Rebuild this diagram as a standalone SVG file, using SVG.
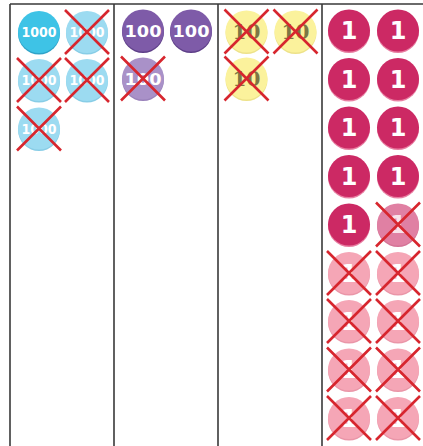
<svg xmlns="http://www.w3.org/2000/svg" xmlns:xlink="http://www.w3.org/1999/xlink" width="423" height="446" viewBox="0 0 423 446">
<style>
.grid{stroke:#3a3a3a;stroke-width:1.6;fill:none}
.xm{stroke:#D7262E;stroke-width:2.6;fill:none;stroke-linecap:butt}
.t{font-family:"DejaVu Sans","Liberation Sans",sans-serif;font-weight:bold;text-anchor:middle;fill:#fff}
.s1000{font-size:13.5px}
.s100{font-size:16.5px}
.s1{font-size:24px}
.s10{font-family:"DejaVu Serif","Liberation Serif",serif;font-weight:bold;font-size:20px;text-anchor:middle;fill:#7C7744}
.a1000{fill:#3EC3E6}.a1000s{fill:#2FA3C8}
.f1000{fill:#9CDBF1}.f1000s{fill:#88CDE6}
.a100{fill:#7E5BA8}.a100s{fill:#5E3F88}
.f100{fill:#A991C8}.f100s{fill:#9A82BB}
.f10{fill:#FBF29C}.f10s{fill:#EDE289}
.a1{fill:#CC2964}.a1s{fill:#E87FA2}
.m1{fill:#E080A3}.m1s{fill:#D47396}
.f1{fill:#F5A6B6}.f1s{fill:#EA96A8}
</style>
<defs>
<path id="x" class="xm" d="M-22,-22L22,22M22,-22L-22,22"/>
</defs>
<g id="grid">
<path class="grid" d="M10,4H430M10,4V446M114,4V446M218,4V446M322,4V446"/>
</g>
<g id="thousands">
<g id="th1" transform="translate(39,32)"><circle class="a1000s" cy="1.5" r="21"/><circle class="a1000" r="21"/><text class="t s1000" y="5" textLength="35" lengthAdjust="spacingAndGlyphs">1000</text></g>
<g id="th2" transform="translate(87,32)"><circle class="f1000s" cy="1.5" r="21"/><circle class="f1000" r="21"/><text class="t s1000" y="5" textLength="35" lengthAdjust="spacingAndGlyphs">1000</text><use xlink:href="#x"/></g>
<g id="th3" transform="translate(39,80)"><circle class="f1000s" cy="1.5" r="21"/><circle class="f1000" r="21"/><text class="t s1000" y="5" textLength="35" lengthAdjust="spacingAndGlyphs">1000</text><use xlink:href="#x"/></g>
<g id="th4" transform="translate(87,80)"><circle class="f1000s" cy="1.5" r="21"/><circle class="f1000" r="21"/><text class="t s1000" y="5" textLength="35" lengthAdjust="spacingAndGlyphs">1000</text><use xlink:href="#x"/></g>
<g id="th5" transform="translate(39,128.5)"><circle class="f1000s" cy="1.5" r="21"/><circle class="f1000" r="21"/><text class="t s1000" y="5" textLength="35" lengthAdjust="spacingAndGlyphs">1000</text><use xlink:href="#x"/></g>
</g>
<g id="hundreds">
<g id="h1" transform="translate(143,30.5)"><circle class="a100s" cy="1.5" r="21"/><circle class="a100" r="21"/><text class="t s100" y="6" textLength="37" lengthAdjust="spacingAndGlyphs">100</text></g>
<g id="h2" transform="translate(191,30.5)"><circle class="a100s" cy="1.5" r="21"/><circle class="a100" r="21"/><text class="t s100" y="6" textLength="37" lengthAdjust="spacingAndGlyphs">100</text></g>
<g id="h3" transform="translate(143,78.5)"><circle class="f100s" cy="1.5" r="21"/><circle class="f100" r="21"/><text class="t s100" y="6" textLength="37" lengthAdjust="spacingAndGlyphs">100</text><use xlink:href="#x"/></g>
</g>
<g id="tens">
<g id="te1" transform="translate(246.5,31.5)"><circle class="f10s" cy="1.5" r="21"/><circle class="f10" r="21"/><text class="s10" y="7.3">10</text><use xlink:href="#x"/></g>
<g id="te2" transform="translate(295.5,31.5)"><circle class="f10s" cy="1.5" r="21"/><circle class="f10" r="21"/><text class="s10" y="7.3">10</text><use xlink:href="#x"/></g>
<g id="te3" transform="translate(246.5,78.5)"><circle class="f10s" cy="1.5" r="21"/><circle class="f10" r="21"/><text class="s10" y="7.3">10</text><use xlink:href="#x"/></g>
</g>
<g id="ones">
<g id="o1" transform="translate(349,30.5)"><circle class="a1s" cy="1.5" r="21"/><circle class="a1" r="21"/><text class="t s1" y="8.7">1</text></g>
<g id="o2" transform="translate(398,30.5)"><circle class="a1s" cy="1.5" r="21"/><circle class="a1" r="21"/><text class="t s1" y="8.7">1</text></g>
<g id="o3" transform="translate(349,79)"><circle class="a1s" cy="1.5" r="21"/><circle class="a1" r="21"/><text class="t s1" y="8.7">1</text></g>
<g id="o4" transform="translate(398,79)"><circle class="a1s" cy="1.5" r="21"/><circle class="a1" r="21"/><text class="t s1" y="8.7">1</text></g>
<g id="o5" transform="translate(349,127.5)"><circle class="a1s" cy="1.5" r="21"/><circle class="a1" r="21"/><text class="t s1" y="8.7">1</text></g>
<g id="o6" transform="translate(398,127.5)"><circle class="a1s" cy="1.5" r="21"/><circle class="a1" r="21"/><text class="t s1" y="8.7">1</text></g>
<g id="o7" transform="translate(349,176)"><circle class="a1s" cy="1.5" r="21"/><circle class="a1" r="21"/><text class="t s1" y="8.7">1</text></g>
<g id="o8" transform="translate(398,176)"><circle class="a1s" cy="1.5" r="21"/><circle class="a1" r="21"/><text class="t s1" y="8.7">1</text></g>
<g id="o9" transform="translate(349,224.5)"><circle class="a1s" cy="1.5" r="21"/><circle class="a1" r="21"/><text class="t s1" y="8.7">1</text></g>
<g id="o10" transform="translate(398,224.5)"><circle class="m1s" cy="1.5" r="21"/><circle class="m1" r="21"/><text class="t s1" y="8.7" fill-opacity="0.8">1</text><use xlink:href="#x"/></g>
<g id="o11" transform="translate(349,273)"><circle class="f1s" cy="1.5" r="21"/><circle class="f1" r="21"/><text class="t s1" y="8.7">1</text><use xlink:href="#x"/></g>
<g id="o12" transform="translate(398,273)"><circle class="f1s" cy="1.5" r="21"/><circle class="f1" r="21"/><text class="t s1" y="8.7">1</text><use xlink:href="#x"/></g>
<g id="o13" transform="translate(349,321)"><circle class="f1s" cy="1.5" r="21"/><circle class="f1" r="21"/><text class="t s1" y="8.7">1</text><use xlink:href="#x"/></g>
<g id="o14" transform="translate(398,321)"><circle class="f1s" cy="1.5" r="21"/><circle class="f1" r="21"/><text class="t s1" y="8.7">1</text><use xlink:href="#x"/></g>
<g id="o15" transform="translate(349,369.5)"><circle class="f1s" cy="1.5" r="21"/><circle class="f1" r="21"/><text class="t s1" y="8.7">1</text><use xlink:href="#x"/></g>
<g id="o16" transform="translate(398,369.5)"><circle class="f1s" cy="1.5" r="21"/><circle class="f1" r="21"/><text class="t s1" y="8.7">1</text><use xlink:href="#x"/></g>
<g id="o17" transform="translate(349,418)"><circle class="f1s" cy="1.5" r="21"/><circle class="f1" r="21"/><text class="t s1" y="8.7">1</text><use xlink:href="#x"/></g>
<g id="o18" transform="translate(398,418)"><circle class="f1s" cy="1.5" r="21"/><circle class="f1" r="21"/><text class="t s1" y="8.7">1</text><use xlink:href="#x"/></g>
</g>
</svg>
